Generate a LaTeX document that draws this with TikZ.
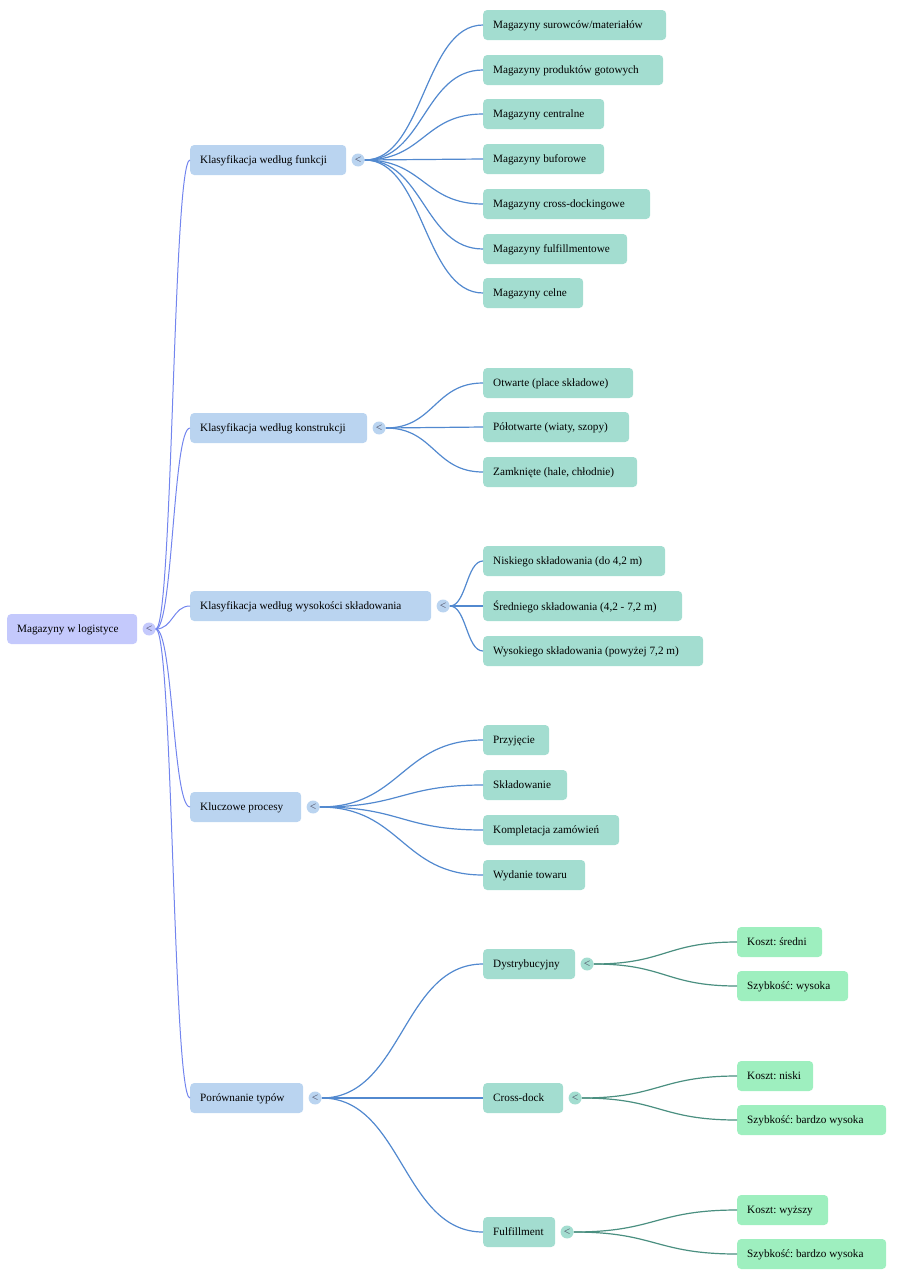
\documentclass[tikz,border=0pt]{standalone}
\usepackage{fontspec}
\setmainfont{Liberation Serif}
\usetikzlibrary{positioning,calc}
\definecolor{rootfill}{HTML}{C4C9FC}
\definecolor{branchfill}{HTML}{BAD4F0}
\definecolor{leaffill}{HTML}{A3DDD0}
\definecolor{subfill}{HTML}{9EEFBF}
\definecolor{rootline}{HTML}{7385EE}
\definecolor{branchline}{HTML}{5289CF}
\definecolor{subline}{HTML}{4A8F80}
\definecolor{signgray}{HTML}{4A4A60}
\frenchspacing

\begin{document}
\begin{tikzpicture}[
    x=1pt, y=-1pt,
    font=\fontsize{11.2}{13}\selectfont,
    box/.style={rectangle, rounded corners=4pt, anchor=west, minimum height=30pt,
                inner xsep=10pt, inner ysep=0pt, text depth=0.5pt,
                execute at begin node={\hbox to #1\bgroup}, execute at end node={\hfil\egroup}},
    rootbox/.style={box=#1, fill=rootfill},
    branch/.style={box=#1, fill=branchfill},
    leaf/.style={box=#1, fill=leaffill},
    subleaf/.style={box=#1, fill=subfill},
    fold/.style={circle, inner sep=0pt, minimum size=13pt, right=5pt of #1,
                 font=\fontsize{11.5}{11.5}\selectfont, text=signgray},
    hlink/.style={to path={let \p1=(\tikztostart), \p2=(\tikztotarget) in
                  .. controls ({(\x1+\x2)/2},\y1) and ({(\x1+\x2)/2},\y2) .. (\tikztotarget)}},
    rootlink/.style={draw=rootline, line width=1pt},
    branchlink/.style={draw=branchline, line width=1.2pt},
    sublink/.style={draw=subline, line width=1.2pt}
]
\useasboundingbox (0,0) rectangle (913,1280);

% Root
\node[rootbox=110pt] (magazyny) at (7,629) {Magazyny w logistyce};
\node[fold=magazyny, fill=rootfill] (magazynyC) {<};

% Branches
\node[branch=136pt] (funkcje) at (190,160) {Klasyfikacja według funkcji};
\node[branch=157pt] (konstrukcja) at (190,428) {Klasyfikacja według konstrukcji};
\node[branch=221pt] (wysokosc) at (190,606) {Klasyfikacja według wysokości składowania};
\node[branch=91pt] (procesy) at (190,807) {Kluczowe procesy};
\node[branch=93pt] (porownanie) at (190,1098) {Porównanie typów};
\node[fold=funkcje, fill=branchfill] (funkcjeC) {<};
\node[fold=konstrukcja, fill=branchfill] (konstrukcjaC) {<};
\node[fold=wysokosc, fill=branchfill] (wysokoscC) {<};
\node[fold=procesy, fill=branchfill] (procesyC) {<};
\node[fold=porownanie, fill=branchfill] (porownanieC) {<};

% Functions
\node[leaf=163pt] (surowce) at (483,25) {Magazyny surowców/materiałów};
\node[leaf=160pt] (produkty) at (483,70) {Magazyny produktów gotowych};
\node[leaf=101pt] (centralne) at (483,114) {Magazyny centralne};
\node[leaf=101pt] (buforowe) at (483,159) {Magazyny buforowe};
\node[leaf=147pt] (crossdocking) at (483,204) {Magazyny cross-dockingowe};
\node[leaf=124pt] (fulfillmentowe) at (483,249) {Magazyny fulfillmentowe};
\node[leaf=80pt] (celne) at (483,293) {Magazyny celne};

% Construction
\node[leaf=130pt] (otwarte) at (483,383) {Otwarte (place składowe)};
\node[leaf=126pt] (polotwarte) at (483,427) {Półotwarte (wiaty, szopy)};
\node[leaf=134pt] (zamkniete) at (483,472) {Zamknięte (hale, chłodnie)};

% Storage height
\node[leaf=162pt] (niskie) at (483,561) {Niskiego składowania (do 4,2 m)};
\node[leaf=179pt] (srednie) at (483,606) {Średniego składowania (4,2 - 7,2 m)};
\node[leaf=200pt] (wysokie) at (483,651) {Wysokiego składowania (powyżej 7,2 m)};

% Processes
\node[leaf=46pt] (przyjecie) at (483,740) {Przyjęcie};
\node[leaf=64pt] (skladowanie) at (483,785) {Składowanie};
\node[leaf=116pt] (kompletacja) at (483,830) {Kompletacja zamówień};
\node[leaf=82pt] (wydanie) at (483,875) {Wydanie towaru};

% Comparison
\node[leaf=72pt] (dystrybucyjny) at (483,964) {Dystrybucyjny};
\node[leaf=60pt] (crossdock) at (483,1098) {Cross-dock};
\node[leaf=52pt] (fulfillment) at (483,1232) {Fulfillment};
\node[fold=dystrybucyjny, fill=leaffill] (dystrybucyjnyC) {<};
\node[fold=crossdock, fill=leaffill] (crossdockC) {<};
\node[fold=fulfillment, fill=leaffill] (fulfillmentC) {<};

\node[subleaf=65pt] (kosztD) at (737,942) {Koszt: średni};
\node[subleaf=91pt] (szybkoscD) at (737,986) {Szybkość: wysoka};
\node[subleaf=56pt] (kosztC) at (737,1076) {Koszt: niski};
\node[subleaf=129pt] (szybkoscC) at (737,1120) {Szybkość: bardzo wysoka};
\node[subleaf=71pt] (kosztF) at (737,1210) {Koszt: wyższy};
\node[subleaf=129pt] (szybkoscF) at (737,1254) {Szybkość: bardzo wysoka};

% Connections
\draw[rootlink] (magazynyC.east) to[hlink] (funkcje.west);
\draw[rootlink] (magazynyC.east) to[hlink] (konstrukcja.west);
\draw[rootlink] (magazynyC.east) to[hlink] (wysokosc.west);
\draw[rootlink] (magazynyC.east) to[hlink] (procesy.west);
\draw[rootlink] (magazynyC.east) to[hlink] (porownanie.west);

\draw[branchlink] (funkcjeC.east) to[hlink] (surowce.west);
\draw[branchlink] (funkcjeC.east) to[hlink] (produkty.west);
\draw[branchlink] (funkcjeC.east) to[hlink] (centralne.west);
\draw[branchlink] (funkcjeC.east) to[hlink] (buforowe.west);
\draw[branchlink] (funkcjeC.east) to[hlink] (crossdocking.west);
\draw[branchlink] (funkcjeC.east) to[hlink] (fulfillmentowe.west);
\draw[branchlink] (funkcjeC.east) to[hlink] (celne.west);

\draw[branchlink] (konstrukcjaC.east) to[hlink] (otwarte.west);
\draw[branchlink] (konstrukcjaC.east) to[hlink] (polotwarte.west);
\draw[branchlink] (konstrukcjaC.east) to[hlink] (zamkniete.west);

\draw[branchlink] (wysokoscC.east) to[hlink] (niskie.west);
\draw[branchlink] (wysokoscC.east) to[hlink] (srednie.west);
\draw[branchlink] (wysokoscC.east) to[hlink] (wysokie.west);

\draw[branchlink] (procesyC.east) to[hlink] (przyjecie.west);
\draw[branchlink] (procesyC.east) to[hlink] (skladowanie.west);
\draw[branchlink] (procesyC.east) to[hlink] (kompletacja.west);
\draw[branchlink] (procesyC.east) to[hlink] (wydanie.west);

\draw[branchlink] (porownanieC.east) to[hlink] (dystrybucyjny.west);
\draw[branchlink] (porownanieC.east) to[hlink] (crossdock.west);
\draw[branchlink] (porownanieC.east) to[hlink] (fulfillment.west);

\draw[sublink] (dystrybucyjnyC.east) to[hlink] (kosztD.west);
\draw[sublink] (dystrybucyjnyC.east) to[hlink] (szybkoscD.west);
\draw[sublink] (crossdockC.east) to[hlink] (kosztC.west);
\draw[sublink] (crossdockC.east) to[hlink] (szybkoscC.west);
\draw[sublink] (fulfillmentC.east) to[hlink] (kosztF.west);
\draw[sublink] (fulfillmentC.east) to[hlink] (szybkoscF.west);

\end{tikzpicture}
\end{document}
